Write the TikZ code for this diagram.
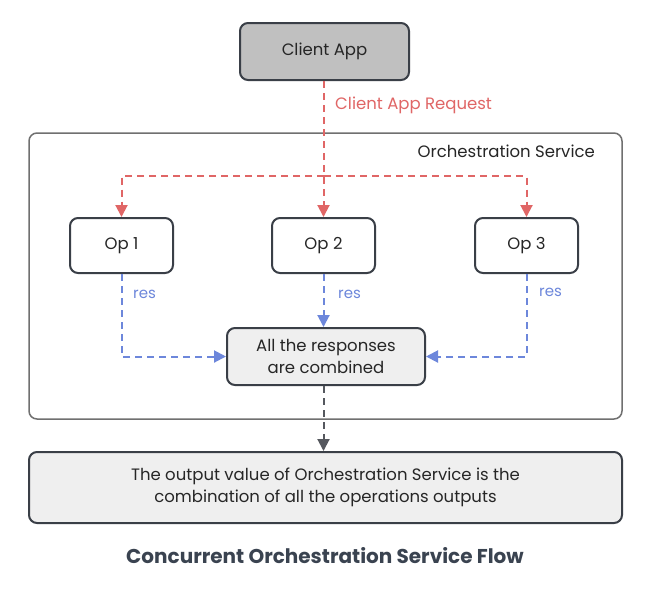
\documentclass[tikz,border=0pt]{standalone}
\usepackage{fontspec}
\setmainfont{Poppins}
\usetikzlibrary{arrows.meta}
\definecolor{dark}{HTML}{3A3F47}
\definecolor{frame}{HTML}{707070}
\definecolor{redc}{HTML}{E06666}
\definecolor{bluec}{HTML}{6D87DB}
\definecolor{lightc}{HTML}{EFEFEF}
\definecolor{grayfill}{HTML}{C0C0C0}
\definecolor{titlec}{HTML}{3A4350}
\definecolor{arrowgray}{HTML}{55585E}
\tikzset{
  box/.style={draw=dark, line width=2pt, rounded corners=8pt, align=center, font=\fontsize{16.5}{22}\selectfont, text=black!85, inner sep=0pt},
  reddash/.style={draw=redc, line width=2pt, dash pattern=on 7pt off 5pt, -{Triangle[width=12pt,length=12pt]}, redc},
  bluedash/.style={draw=bluec, line width=2pt, dash pattern=on 7pt off 5pt, -{Triangle[width=12pt,length=12pt]}, bluec},
  graydash/.style={draw=arrowgray, line width=2pt, dash pattern=on 7pt off 5pt, -{Triangle[width=12pt,length=12pt]}, arrowgray},
  lbl/.style={font=\fontsize{15}{18}\selectfont, inner sep=0pt, anchor=west},
}
\begin{document}
\begin{tikzpicture}[x=1pt,y=-1pt]
\useasboundingbox[fill=white] (0,0) rectangle (650,590);
% container
\node[draw=frame, line width=1.5pt, rounded corners=8pt, minimum width=593pt, minimum height=286pt, inner sep=0pt] (orch) at (325.5,276) {};
\node[font=\fontsize{16.5}{20}\selectfont, text=black!85, anchor=east, inner sep=0pt] (orchlbl) at (595,151) {Orchestration Service};
% nodes
\node[box, fill=grayfill, minimum width=169pt, minimum height=57pt] (client) at (324.5,51.5) {Client App};
\node[box, fill=white, minimum width=103pt, minimum height=55pt] (op1) at (121.5,245.5) {Op 1};
\node[box, fill=white, minimum width=103pt, minimum height=55pt] (op2) at (323.5,245.5) {Op 2};
\node[box, fill=white, minimum width=103pt, minimum height=55pt] (op3) at (526.5,245.5) {Op 3};
\node[box, fill=lightc, minimum width=198pt, minimum height=57pt] (comb) at (326,356.5) {All the responses\\are combined};
\node[box, fill=lightc, minimum width=593pt, minimum height=71pt] (out) at (325.5,487.5) {The output value of Orchestration Service is the\\combination of all the operations outputs};
\node[font=\bfseries\fontsize{20}{24}\selectfont, text=titlec, inner sep=0pt] (title) at (325,556) {Concurrent Orchestration Service Flow};
% red request arrows
\coordinate (split) at (324,176);
\draw[reddash] (client.south -| op2.north) -- (op2.north);
\node[lbl, text=redc, font=\fontsize{16.5}{20}\selectfont] (req) at (335,105) {Client App Request};
\draw[reddash] (split) -| (op1.north);
\draw[reddash] (split) -| (op3.north);
% blue responses
\draw[bluedash] (op1.south) |- (comb.west);
\draw[bluedash] (op2.south) -- (op2.south |- comb.north);
\draw[bluedash] (op3.south) |- (comb.east);
\node[lbl, text=bluec] (r1) at (133,294) {res};
\node[lbl, text=bluec] (r2) at (338,294) {res};
\node[lbl, text=bluec] (r3) at (539,292) {res};
% output arrow
\draw[graydash] (comb.south -| op2.south) -- (out.north -| op2.south);
\end{tikzpicture}
\end{document}
